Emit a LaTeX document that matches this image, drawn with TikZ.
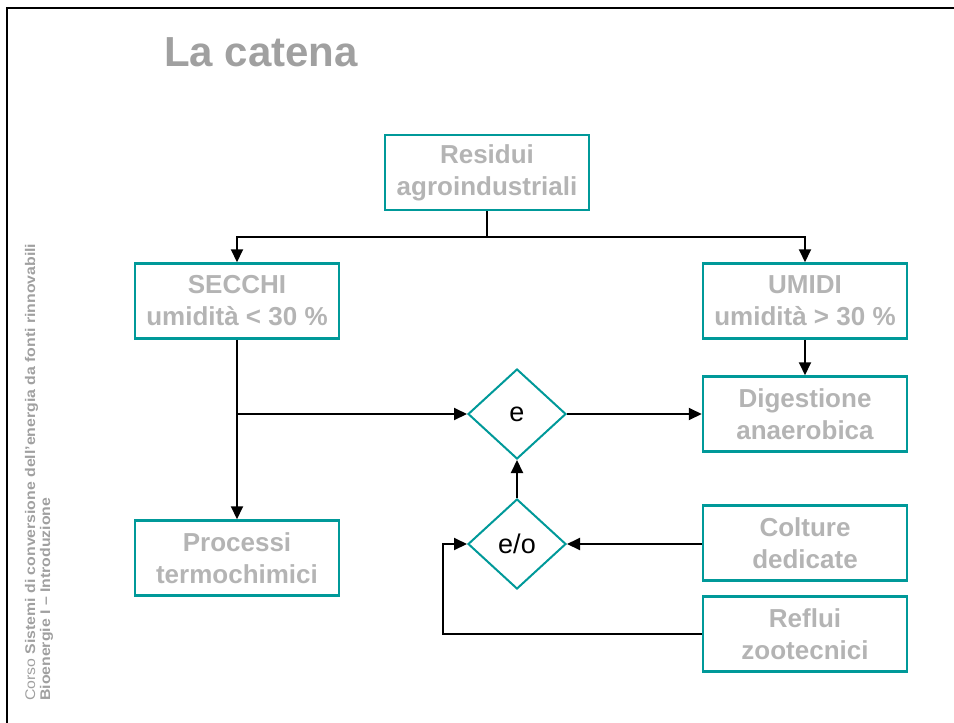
\documentclass[tikz,border=0pt]{standalone}
\usepackage{fontspec}
\setmainfont{Liberation Sans}
\usetikzlibrary{arrows.meta,shapes.geometric}
\definecolor{teal1}{RGB}{0,153,153}
\definecolor{txtgray}{RGB}{180,180,180}
\definecolor{titlegray}{RGB}{160,160,160}
\begin{document}
\begin{tikzpicture}[x=1pt,y=-1pt,
 box/.style={draw=teal1, line width=2.5pt, minimum width=204pt, minimum height=75pt, inner sep=0pt, text=txtgray, font=\fontsize{26}{32}\selectfont\bfseries, align=center},
 dia/.style={diamond, aspect=1.09, draw=teal1, line width=2pt, minimum width=98pt, minimum height=90pt, inner sep=0pt, font=\fontsize{27}{32}\selectfont},
 conn/.style={line width=2pt, -{Triangle[length=13pt,width=12pt]}},
 plainline/.style={line width=2pt},
 sidetext/.style={rotate=90, anchor=base west, inner sep=0pt, text=titlegray, font=\fontsize{14}{16}\selectfont}]
\useasboundingbox (0,0) rectangle (954,723);
\draw[line width=2pt] (954,8) -- (7,8) -- (7,723);
\node[anchor=base west, text=titlegray, font=\fontsize{42}{48}\selectfont\bfseries, inner sep=0pt] (title) at (164,66) {La catena};
\node[sidetext] (side1) at (35,701) {\scalebox{1.13}[1]{Corso \textbf{Sistemi di conversione dell’energia da fonti rinnovabili}}};
\node[sidetext] (side2) at (50,701) {\scalebox{1.13}[1]{\textbf{Bioenergie I – Introduzione}}};
\node[box] (res) at (487,172.5) {Residui\\agroindustriali};
\node[box] (secchi) at (237,301) {SECCHI\\umidità < 30 \%};
\node[box] (umidi) at (805,301) {UMIDI\\umidità > 30 \%};
\node[box] (dig) at (805,414) {Digestione\\anaerobica};
\node[box] (proc) at (237,558) {Processi\\termochimici};
\node[box] (colt) at (805,543) {Colture\\dedicate};
\node[box] (refl) at (805,634) {Reflui\\zootecnici};
\node[dia] (e) at (517,414) {e};
\node[dia] (eo) at (517,544) {e/o};
\coordinate (j1) at (487,237);
\coordinate (j2) at (237,414);
\coordinate (j3) at (443,544);
\draw[plainline] (res.south) -- (j1);
\draw[conn] (j1) -| (secchi.north);
\draw[conn] (j1) -| (umidi.north);
\draw[conn] (umidi.south) -- (dig.north);
\draw[conn] (secchi.south) -- (proc.north);
\draw[conn] (j2) -- (e.west);
\draw[conn] (e.east) -- (dig.west);
\draw[conn] (eo.north) -- (e.south);
\draw[conn] (colt.west |- eo.east) -- (eo.east);
\draw[conn] (refl.west) -| (j3) -- (eo.west);
\end{tikzpicture}
\end{document}
